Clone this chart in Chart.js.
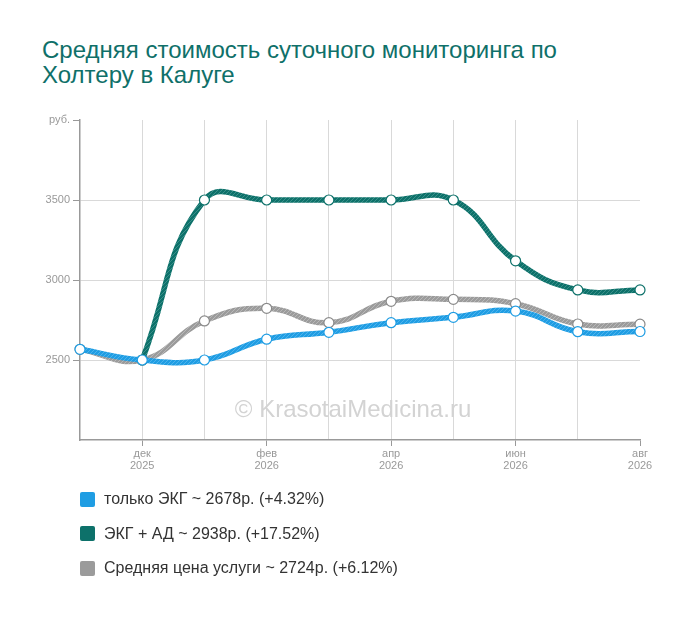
<!DOCTYPE html>
<html>
<head>
<meta charset="utf-8">
<script src="https://cdn.jsdelivr.net/npm/chart.js@4.4.1/dist/chart.umd.min.js"></script>
<style>
  body { margin: 0; background: #fff; font-family: "Liberation Sans", Arial, sans-serif; }
  #wrap { position: relative; width: 700px; height: 617px; }
  #titulo { position: absolute; left: 42px; top: 37px; font-size: 24px; line-height: 25px; color: #0f7069; }
  #grafico { position: absolute; left: 0; top: 0; }
  #legenda { position: absolute; left: 80px; top: 489px; }
  .item { height: 20px; margin-bottom: 14.5px; display: flex; align-items: center; font-size: 16px; color: #333; }
  .caixa { width: 15px; height: 15px; border-radius: 2px; margin-right: 9px; }
</style>
</head>
<body>
<div id="wrap">
  <div id="titulo">Средняя стоимость суточного мониторинга по<br>Холтеру в Калуге</div>
  <canvas id="grafico" width="700" height="617"></canvas>
  <div id="legenda"></div>
</div>
<script>
// DADOS
const meses = [['ноя', '2025'], ['дек', '2025'], ['янв', '2026'], ['фев', '2026'], ['мар', '2026'],
               ['апр', '2026'], ['май', '2026'], ['июн', '2026'], ['июл', '2026'], ['авг', '2026']];
const soEkg = [2567, 2500, 2500, 2630, 2673, 2733, 2767, 2806, 2677, 2678];
const ekgAd = [null, 2500, 3500, 3500, 3500, 3500, 3500, 3120, 2938, 2938];
const mediaPreco = [2567, 2500, 2744, 2823, 2733, 2867, 2879, 2852, 2725, 2724];
const rotulos = ['только ЭКГ ~ 2678р. (+4.32%)', 'ЭКГ + АД ~ 2938р. (+17.52%)', 'Средняя цена услуги ~ 2724р. (+6.12%)'];
const ticksY = [2500, 3000, 3500];

const cores = ['#1f9de3', '#0d716a', '#9b9b9b'];
const listras = ['#4db3ec', '#3a8f89', '#b8b8b8'];
const bordasPonto = ['#1f9de3', '#0d716a', '#8a8a8a'];

// textura listrada das linhas
function hachura(cor, clara) {
  const p = document.createElement('canvas');
  p.width = 4; p.height = 4;
  const c = p.getContext('2d');
  c.fillStyle = cor;
  c.fillRect(0, 0, 4, 4);
  c.strokeStyle = clara;
  c.lineWidth = 1;
  c.beginPath();
  c.moveTo(0, 4); c.lineTo(4, 0);
  c.moveTo(-1, 1); c.lineTo(1, -1);
  c.moveTo(3, 5); c.lineTo(5, 3);
  c.stroke();
  return c.createPattern(p, 'repeat');
}

// marca d'agua
const marcaDagua = {
  id: 'marcaDagua',
  beforeDatasetsDraw(chart) {
    const c = chart.ctx;
    c.save();
    c.font = '24px "Liberation Sans", Arial, sans-serif';
    c.fillStyle = '#d3d3d3';
    c.textAlign = 'center';
    c.textBaseline = 'middle';
    c.fillText('© KrasotaiMedicina.ru', 353, 410);
    c.restore();
  }
};

const series = [soEkg, ekgAd, mediaPreco];
const ctxLinha = document.getElementById('grafico');
const grafico = new Chart(ctxLinha, {
  type: 'line',
  data: {
    labels: meses,
    datasets: series.map((s, i) => ({
      label: rotulos[i],
      data: s,
      borderColor: hachura(cores[i], listras[i]),
      backgroundColor: cores[i],
      borderWidth: 5.5,
      tension: 0.45,
      fill: false,
      pointRadius: 5,
      pointHoverRadius: 5,
      pointBackgroundColor: '#fff',
      pointBorderColor: bordasPonto[i],
      pointBorderWidth: 1.2
    }))
  },
  plugins: [marcaDagua],
  options: {
    responsive: false,
    animation: false,
    layout: { padding: { top: 120, right: 60, left: 0, bottom: 0 } },
    plugins: {
      legend: { display: false },
      tooltip: { enabled: false }
    },
    scales: {
      x: {
        offset: false,
        grid: {
          color: (c) => (c.index === 0 || c.index === meses.length - 1) ? 'rgba(0,0,0,0)' : '#d9d9d9',
          tickColor: (c) => (c.index % 2 === 1) ? '#999' : 'rgba(0,0,0,0)',
          tickLength: 6
        },
        border: { color: '#999', width: 1.5 },
        ticks: {
          autoSkip: false,
          maxRotation: 0,
          color: '#999',
          padding: 2,
          font: { size: 11, family: '"Liberation Sans", Arial, sans-serif', lineHeight: 1.1 },
          callback: function (v, i) { return i % 2 === 1 ? meses[i] : ''; }
        },
        afterFit: (s) => { s.height = 177; }
      },
      y: {
        min: 2000,
        max: 4000,
        grid: {
          color: (c) => ticksY.includes(c.tick.value) ? '#d9d9d9' : 'rgba(0,0,0,0)',
          tickColor: (c) => c.tick.value === 2000 ? 'rgba(0,0,0,0)' : '#999',
          tickLength: 7
        },
        border: { color: '#999', width: 1.5 },
        ticks: {
          stepSize: 500,
          color: '#999',
          padding: 3,
          font: { size: 11, family: '"Liberation Sans", Arial, sans-serif' },
          callback: (v) => v === 4000 ? 'руб.' : (ticksY.includes(v) ? String(v) : '')
        },
        afterFit: (s) => { s.width = 80; }
      }
    }
  }
});

// legenda em html
const leg = document.getElementById('legenda');
grafico.data.datasets.forEach((d) => {
  const el = document.createElement('div');
  el.className = 'item';
  el.innerHTML = '<span class="caixa" style="background:' + d.backgroundColor + '"></span><span>' + d.label + '</span>';
  leg.appendChild(el);
});
</script>
</body>
</html>
